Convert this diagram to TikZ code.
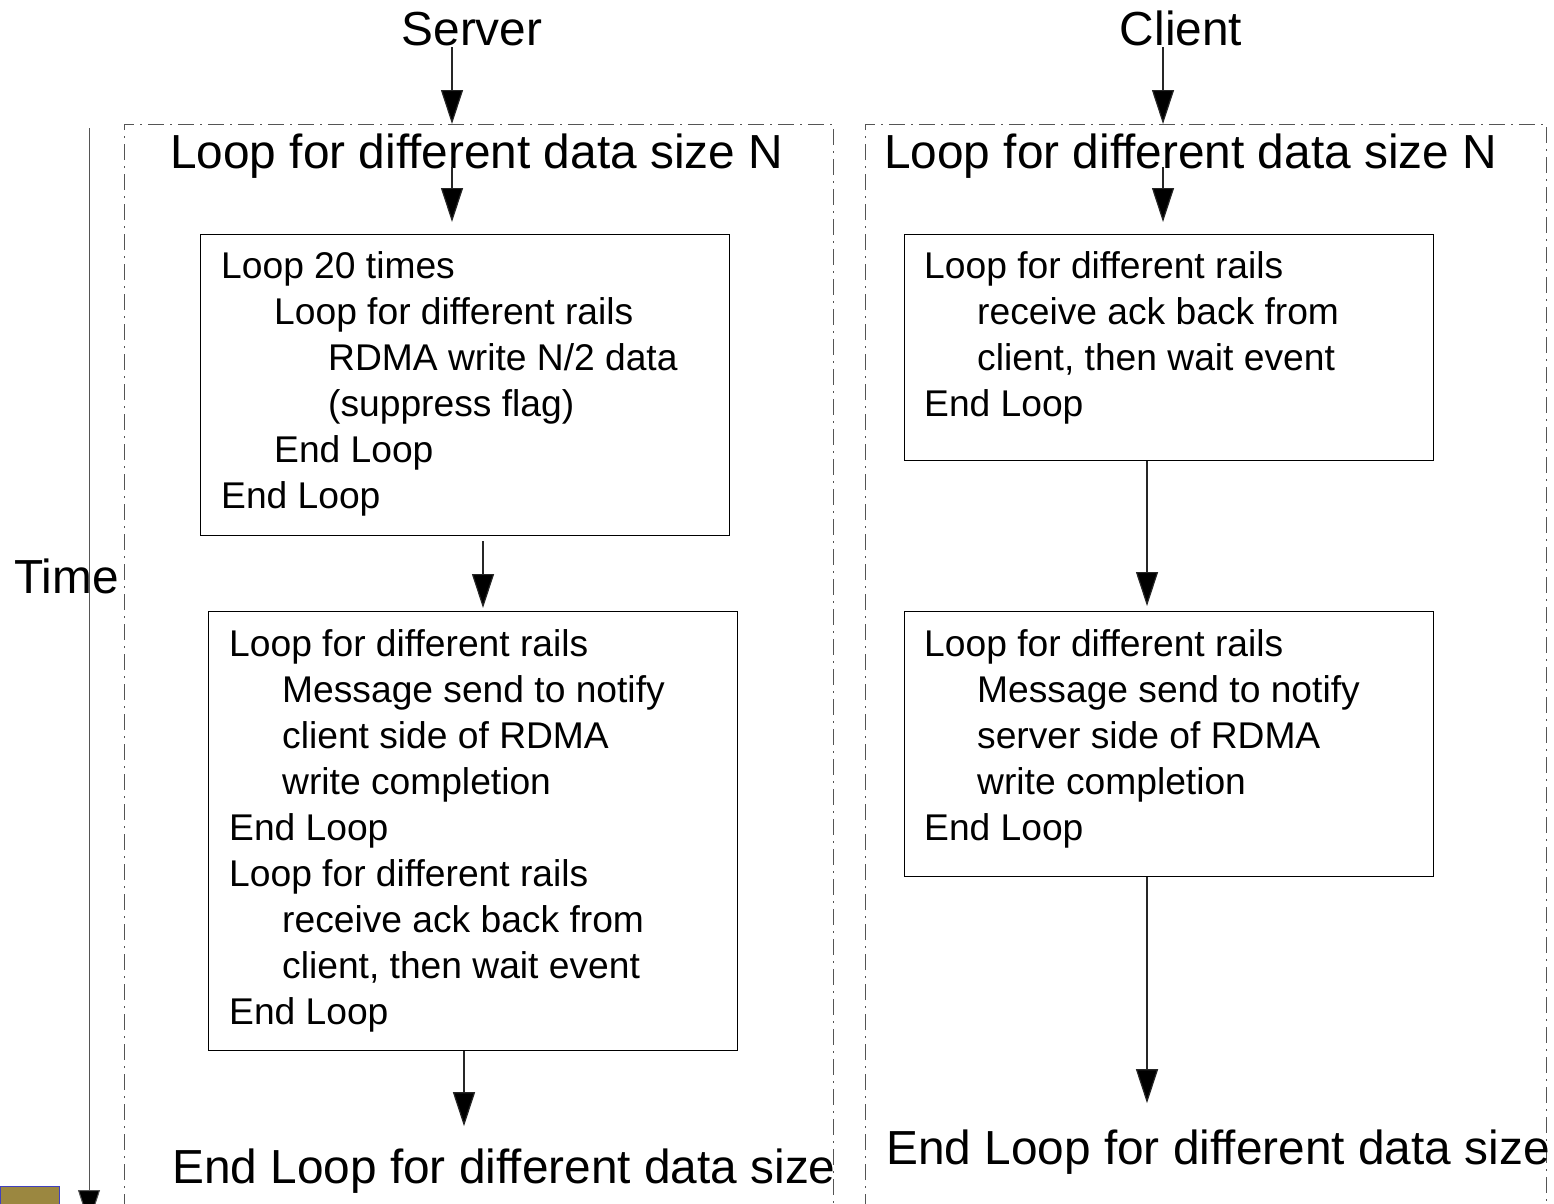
\documentclass[tikz,border=0pt]{standalone}
\usepackage{fontspec}
\setmainfont{Liberation Sans}
\usetikzlibrary{arrows.meta,calc}
\definecolor{olivebox}{HTML}{9B8740}
\definecolor{dashgray}{HTML}{555555}
\tikzset{
  big/.style={font=\fontsize{47.8}{56}\selectfont, inner sep=0pt},
  boxtxt/.style={font=\fontsize{37.2}{46}\selectfont, align=left, inner sep=0pt, anchor=north west},
  stepbox/.style={draw=black, line width=1.2pt, anchor=north west, inner sep=0pt},
  loopbox/.style={draw=dashgray, line width=1pt, dash pattern=on 16pt off 6pt on 2pt off 6pt},
  arr/.style={draw=black!85, line width=1.2pt, -{Triangle[length=34pt,width=22pt,fill=black]}},
}
\newcommand{\ia}{\hspace*{53pt}}
\newcommand{\ib}{\hspace*{107pt}}
\begin{document}
\begin{tikzpicture}[x=1pt,y=-1pt]
\useasboundingbox (0,0) rectangle (1554,1203);
% time axis
\fill[olivebox, draw=blue!50!gray, line width=0.8pt] (0,1186) rectangle (59,1230);
\coordinate (t0) at (89,128);
\coordinate (t1) at (89,1224);
\draw[draw=dashgray, line width=1pt, -{Triangle[length=34pt,width=22pt,fill=black]}] (t0) -- (t1);
\node[big, anchor=base west] (time) at (14,593) {Time};
% loop frames
\draw[loopbox] (124,1240) -- (124,124) -- (833,124) -- (833,1240);
\draw[loopbox] (865,1240) -- (865,124) -- (1546,124) -- (1546,1240);
% titles
\node[big, anchor=base] (srv) at (472,45) {Server};
\node[big, anchor=base] (cli) at (1181,45) {Client};
\node[big, anchor=base west] (sloop) at (170,168) {Loop for different data size N};
\node[big, anchor=base west] (cloop) at (884,168) {Loop for different data size N};
\node[big, anchor=base west] (send) at (172,1183) {End Loop for different data size};
\node[big, anchor=base west] (cend) at (886,1164) {End Loop for different data size};
% server boxes
\node[stepbox, minimum width=529pt, minimum height=301pt] (s1) at (200,234) {};
\node[boxtxt] (s1t) at (221,251.5) {Loop 20 times\\ \ia Loop for different rails\\ \ib RDMA write N/2 data\\ \ib (suppress flag)\\ \ia End Loop\\ End Loop};
\node[stepbox, minimum width=529pt, minimum height=439pt] (s2) at (208,611) {};
\node[boxtxt] (s2t) at (229,629.5) {Loop for different rails\\ \ia Message send to notify\\ \ia client side of RDMA\\ \ia write completion\\ End Loop\\ Loop for different rails\\ \ia receive ack back from\\ \ia client, then wait event\\ End Loop};
% client boxes
\node[stepbox, minimum width=529pt, minimum height=226pt] (c1) at (904,234) {};
\node[boxtxt] (c1t) at (924,251.5) {Loop for different rails\\ \ia receive ack back from\\ \ia client, then wait event\\ End Loop};
\node[stepbox, minimum width=529pt, minimum height=265pt] (c2) at (904,611) {};
\node[boxtxt] (c2t) at (924,629.5) {Loop for different rails\\ \ia Message send to notify\\ \ia server side of RDMA\\ \ia write completion\\ End Loop};
% connector coordinates
\coordinate (sa0) at (452,47);  \coordinate (sa1) at (452,124);
\coordinate (sb0) at (452,167); \coordinate (sb1) at (452,222);
\coordinate (ca0) at (1163,47);  \coordinate (ca1) at (1163,124);
\coordinate (cb0) at (1163,167); \coordinate (cb1) at (1163,222);
\draw[arr] (sa0) -- (sa1);
\draw[arr] (sb0) -- (sb1);
\draw[arr] (ca0) -- (ca1);
\draw[arr] (cb0) -- (cb1);
\draw[arr] ($(s1.south west)+(283,5)$) -- ($(s2.north west)+(275,-3)$);
\draw[arr] ($(s2.south west)+(256,0)$) -- ++(0,75);
\draw[arr] ($(c1.south west)+(243,0)$) -- ($(c2.north west)+(243,-5)$);
\draw[arr] ($(c2.south west)+(243,0)$) -- ++(0,226);
\end{tikzpicture}
\end{document}
